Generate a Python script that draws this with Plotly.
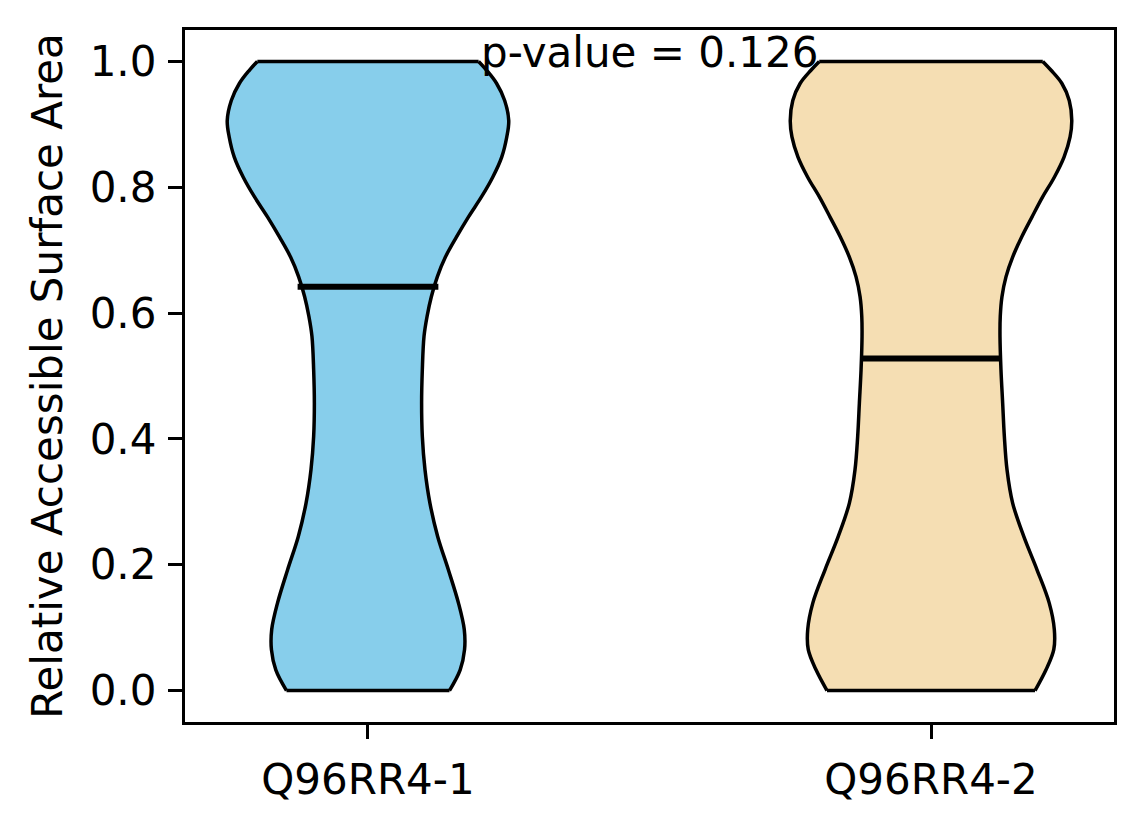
import numpy as np
import plotly.graph_objects as go

# violin outlines: density (max = 1) at each level
levels = [0.0, 0.033, 0.065, 0.097, 0.139, 0.192, 0.245, 0.298, 0.351, 0.404,
          0.457, 0.510, 0.563, 0.595, 0.626, 0.658, 0.689, 0.721, 0.753, 0.785,
          0.816, 0.848, 0.880, 0.906, 0.938, 0.965, 0.986, 1.0]
dens_1 = [0.579, 0.655, 0.686, 0.684, 0.643, 0.571, 0.495, 0.440, 0.405, 0.386,
          0.381, 0.386, 0.398, 0.420, 0.450, 0.493, 0.550, 0.629, 0.714, 0.807,
          0.886, 0.950, 0.986, 1.0, 0.971, 0.914, 0.843, 0.786]
dens_2 = [0.739, 0.817, 0.872, 0.876, 0.840, 0.753, 0.659, 0.580, 0.540, 0.521,
          0.509, 0.497, 0.490, 0.492, 0.504, 0.533, 0.580, 0.644, 0.718, 0.794,
          0.876, 0.945, 0.988, 1.0, 0.982, 0.930, 0.853, 0.794]

labels = ['Q96RR4-1', 'Q96RR4-2']
means = [0.642, 0.528]
p_value = 0.126

colors = ['#87CEEB', '#F5DEB3']
font = 'DejaVu Sans'
half = 0.25  # half of violin width (matplotlib default width 0.5)

fig = go.Figure()

groups = [dens_1, dens_2]
for i, ds in enumerate(groups):
    pos = i + 1
    w = np.array(ds) * half
    fig.add_trace(go.Scatter(x=pos - w, y=levels, mode='lines',
                             line=dict(color='black', width=3.5, shape='spline'),
                             hoverinfo='skip', showlegend=False))
    fig.add_trace(go.Scatter(x=pos + w, y=levels, mode='lines',
                             line=dict(color='black', width=3.5, shape='spline'),
                             fill='tonextx', fillcolor=colors[i],
                             hoverinfo='skip', showlegend=False))

for i, ds in enumerate(groups):
    pos = i + 1
    w = np.array(ds) * half
    # flat ends of the violin
    fig.add_trace(go.Scatter(x=[pos - w[0], pos + w[0], None, pos - w[-1], pos + w[-1]],
                             y=[levels[0], levels[0], None, levels[-1], levels[-1]],
                             mode='lines', line=dict(color='black', width=3.5),
                             hoverinfo='skip', showlegend=False))
    # mean line
    fig.add_trace(go.Scatter(x=[pos - half / 2, pos + half / 2], y=[means[i], means[i]],
                             mode='lines', line=dict(color='black', width=6),
                             hoverinfo='skip', showlegend=False))

fig.add_annotation(x=1.5, y=1.0, xref='x', yref='y', text=f'p-value = {p_value}',
                   showarrow=False, yanchor='middle', yshift=9,
                   font=dict(family=font, size=42, color='black'))

axis_common = dict(showline=True, linecolor='black', linewidth=3.3, mirror=True,
                   ticks='outside', ticklen=14, tickwidth=3.3, tickcolor='black',
                   showgrid=False, zeroline=False,
                   tickfont=dict(family=font, size=42, color='black'))

fig.update_xaxes(range=[0.675, 2.325], tickvals=[1, 2], ticktext=labels,
                 ticklabelstandoff=4, **axis_common)
fig.update_yaxes(range=[-0.05, 1.05], tickvals=[0, 0.2, 0.4, 0.6, 0.8, 1.0],
                 tickformat='.1f', ticklabelstandoff=3,
                 title=dict(text='Relative Accessible Surface Area', standoff=14,
                            font=dict(family=font, size=42, color='black')),
                 **axis_common)

# page body adds 8px around the figure, so the figure is sized to fit inside
fig.update_layout(width=1128, height=808,
                  margin=dict(l=177, r=22, t=22, b=92),
                  plot_bgcolor='white', paper_bgcolor='white',
                  font=dict(family=font))

fig.write_html('out.html')
